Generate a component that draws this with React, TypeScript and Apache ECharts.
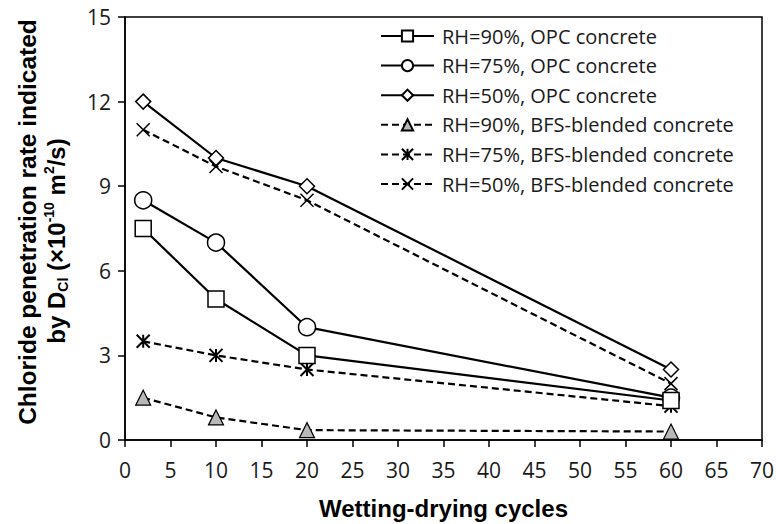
import React, { useEffect, useRef } from "react";
import * as echarts from "echarts";

// Wetting-drying cycle counts (x values)
const cycles = [2, 10, 20, 60];

// Chloride penetration rate D_Cl (×10^-10 m²/s)
const opc90 = [7.5, 5.0, 3.0, 1.4];
const opc75 = [8.5, 7.0, 4.0, 1.5];
const opc50 = [12.0, 10.0, 9.0, 2.5];
const bfs90 = [1.5, 0.8, 0.35, 0.3];
const bfs75 = [3.5, 3.0, 2.5, 1.2];
const bfs50 = [11.0, 9.7, 8.5, 2.0];

const seriesNames = [
  "RH=90%, OPC concrete",
  "RH=75%, OPC concrete",
  "RH=50%, OPC concrete",
  "RH=90%, BFS-blended concrete",
  "RH=75%, BFS-blended concrete",
  "RH=50%, BFS-blended concrete",
];

const xTicks = { min: 0, max: 70, interval: 5 };
const yTicks = { min: 0, max: 15, interval: 3 };

const ASTERISK = "path://M5,0 L5,10 M0,0 L10,10 M0,10 L10,0";
const CROSS = "path://M0,0 L10,10 M0,10 L10,0";

const LABEL_FONT = "'Open Sans', 'Noto Sans', sans-serif";
const TITLE_FONT = "'Liberation Sans', Arial, sans-serif";

export default function App() {
  const ref = useRef<HTMLDivElement>(null);

  useEffect(() => {
    if (!ref.current) return;
    const chart = echarts.init(ref.current, null, { renderer: "svg" });

    const pair = (vals: number[]) => cycles.map((c, i) => [c, vals[i]]);

    const solid = { color: "#000", width: 2.2, type: "solid" as const };
    const dashed = { color: "#000", width: 2.2, type: [7, 4] as any };
    const hollow = { color: "#fff", borderColor: "#000", borderWidth: 1.5 };
    const stroke = { color: "rgba(0,0,0,0)", borderColor: "#000", borderWidth: 2 };

    const defs = [
      { data: opc90, symbol: "rect", size: 16, line: solid, item: hollow },
      { data: opc75, symbol: "circle", size: 17, line: solid, item: hollow },
      { data: opc50, symbol: "diamond", size: 15, line: solid, item: hollow },
      {
        data: bfs90,
        symbol: "triangle",
        size: 15,
        line: dashed,
        item: { color: "#b8b8b8", borderColor: "#000", borderWidth: 1.2 },
      },
      { data: bfs75, symbol: ASTERISK, size: 13, line: dashed, item: stroke },
      { data: bfs50, symbol: CROSS, size: 13, line: dashed, item: { ...stroke, borderWidth: 1.5 } },
    ];

    const axisLine = { show: true, lineStyle: { color: "#000", width: 1.5 } };
    const axisTick = { show: true, inside: false, length: 7, lineStyle: { color: "#000", width: 1.5 } };

    chart.setOption({
      animation: false,
      backgroundColor: "#fff",
      grid: {
        left: 125,
        right: 14,
        top: 17,
        bottom: 84,
        containLabel: false,
        outerBoundsMode: "none",
        show: true,
        borderColor: "#000",
        borderWidth: 1.5,
      },
      legend: {
        orient: "vertical",
        left: 375,
        top: 21,
        itemWidth: 53,
        itemHeight: 14,
        itemGap: 9.6,
        textStyle: {
          fontFamily: LABEL_FONT,
          fontSize: 20,
          lineHeight: 20,
          color: "#1a1a1a",
          padding: [0, 0, 0, 3],
        },
        data: seriesNames,
      },
      xAxis: {
        type: "value",
        ...xTicks,
        name: "Wetting-drying cycles",
        nameLocation: "middle",
        nameGap: 56,
        nameTextStyle: { fontFamily: TITLE_FONT, fontWeight: "bold", fontSize: 24, color: "#000" },
        axisLine,
        axisTick,
        axisLabel: { fontFamily: LABEL_FONT, fontSize: 21, color: "#1a1a1a", margin: 19 },
        splitLine: { show: false },
      },
      yAxis: {
        type: "value",
        ...yTicks,
        axisLine,
        axisTick,
        axisLabel: { fontFamily: LABEL_FONT, fontSize: 21, color: "#1a1a1a", margin: 14 },
        splitLine: { show: false },
      },
      graphic: [
        {
          type: "text",
          x: 27,
          y: 222,
          rotation: Math.PI / 2,
          style: {
            text: "Chloride penetration rate indicated",
            fontFamily: TITLE_FONT,
            fontWeight: "bold",
            fontSize: 24.5,
            fill: "#000",
            align: "center",
            verticalAlign: "middle",
          },
        },
        {
          type: "text",
          x: 56,
          y: 241,
          rotation: Math.PI / 2,
          style: {
            text: "{b|by D}{sub|Cl}{b| (×10}{sup|-10}{b| m}{sup|2}{b|/s)}",
            align: "center",
            verticalAlign: "middle",
            rich: {
              b: { fontFamily: TITLE_FONT, fontWeight: "bold", fontSize: 24, fill: "#000", lineHeight: 28, verticalAlign: "middle" },
              sub: { fontFamily: TITLE_FONT, fontWeight: "bold", fontSize: 14, fill: "#000", lineHeight: 28, verticalAlign: "bottom" },
              sup: { fontFamily: TITLE_FONT, fontWeight: "bold", fontSize: 14, fill: "#000", lineHeight: 28, verticalAlign: "top" },
            },
          },
        },
      ],
      series: defs.map((d, i) => ({
        name: seriesNames[i],
        type: "line",
        data: pair(d.data),
        symbol: d.symbol,
        symbolSize: d.size,
        showAllSymbol: true,
        lineStyle: d.line,
        itemStyle: d.item,
        z: 10 - i,
      })),
    });

    return () => chart.dispose();
  }, []);

  return <div ref={ref} style={{ width: 776, height: 524, position: "absolute", left: 0, top: 0 }} />;
}
